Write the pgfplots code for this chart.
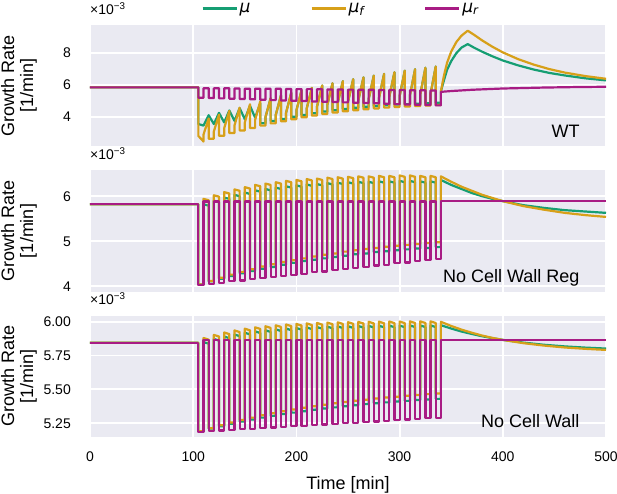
\documentclass[border=0pt]{standalone}
\usepackage{fontspec}
\setmainfont{Liberation Sans}
\newfontfamily\djv{DejaVu Sans}
\usepackage{pgfplots}
\pgfplotsset{compat=1.18}
\definecolor{bgc}{HTML}{EAEAF2}
\definecolor{cmu}{RGB}{22,158,115}
\definecolor{cmuf}{RGB}{215,160,25}
\definecolor{cmur}{RGB}{168,28,132}
\pgfplotsset{panel/.style={
  scale only axis, width=516pt, height=121pt, xmin=0, xmax=500,
  anchor=south west, clip mode=individual, no markers,
  axis background/.style={fill=bgc},
  axis line style={draw=none},
  major tick length=0pt,
  xmajorgrids, ymajorgrids, major grid style={white, line width=1.8pt},
  xtick={0,100,200,300,400,500},
  tick label style={font=\fontsize{14}{16}\selectfont},
  /pgf/number format/assume math mode=true,
  yticklabel style={anchor=east, inner sep=0pt},
  yticklabel shift=19pt,
  ylabel={Growth Rate\\{}[1/min]},
  every axis y label/.style={at={(axis description cs:-0.1725,0.5)}, rotate=90, anchor=north, align=center, inner sep=0pt, font=\fontsize{18}{19}\selectfont},
  every axis plot/.append style={line width=2.2pt, line join=round},
}}
\newcommand{\tenm}{\node[anchor=base west, inner sep=0pt, font=\fontsize{14}{16}\selectfont, yshift=11pt] at (rel axis cs:0,1) {×10\textsuperscript{−3}};}
\begin{document}
\begin{tikzpicture}
\path[use as bounding box] (0pt,0pt) rectangle (617pt,-494pt);
% ---------------- WT ----------------
\begin{axis}[panel, at={(90pt,-146.3pt)}, ymin=2.15, ymax=9.75, ytick={4,6,8}, xticklabels={},
  legend style={at={(axis description cs:0.5,1)}, anchor=center, yshift=16.8pt, xshift=-7pt, draw=none, fill=none,
    legend columns=3, font=\fontsize{17}{19}\selectfont,
    /tikz/every even column/.append style={column sep=58pt}},
  legend image code/.code={\draw[#1] (0pt,0pt) -- (34pt,0pt);}]
\addplot[cmu] coordinates {(0,5.85)(105,5.85)(105,3.55)(110,3.45)(115,4.10)(120,3.55)(125,4.25)(130,3.65)(135,4.40)(140,3.75)(145,4.55)(150,3.85)(155,4.70)(160,3.95)(165,4.85)
(165,3.60)(170,3.60)(170,3.97)(175,5.17)
(175,3.74)(180,3.74)(180,4.12)(185,5.34)
(185,3.87)(190,3.87)(190,4.26)(195,5.51)
(195,4.00)(200,4.00)(200,4.40)(205,5.67)
(205,4.12)(210,4.12)(210,4.53)(215,5.82)
(215,4.23)(220,4.23)(220,4.65)(225,5.97)
(225,4.33)(230,4.33)(230,4.76)(235,6.11)
(235,4.42)(240,4.42)(240,4.86)(245,6.24)
(245,4.50)(250,4.50)(250,4.95)(255,6.36)
(255,4.57)(260,4.57)(260,5.04)(265,6.48)
(265,4.63)(270,4.63)(270,5.11)(275,6.59)
(275,4.68)(280,4.68)(280,5.18)(285,6.70)
(285,4.73)(290,4.73)(290,5.25)(295,6.80)
(295,4.77)(300,4.77)(300,5.30)(305,6.90)
(305,4.80)(310,4.80)(310,5.35)(315,6.99)
(315,4.83)(320,4.83)(320,5.40)(325,7.08)
(325,4.86)(330,4.86)(330,5.45)(335,7.16)
(335,4.89)(340,4.89)(340,5.60)(343,6.30)(346,6.95)(350,7.50)(355,8.00)(360,8.35)(366,8.57)(372,8.35)(380,8.09)(390,7.80)(400,7.54)(415,7.23)(430,6.97)(445,6.76)(460,6.60)(480,6.42)(500,6.29)};
\addlegendentry{{\djv\itshape μ}}
\addplot[cmuf] coordinates {(0,5.85)(105,5.85)(105,2.80)(110,2.45)(110,2.89)(115,3.90)
(115,2.63)(120,2.63)(120,3.08)(125,4.14)
(125,2.81)(130,2.81)(130,3.28)(135,4.37)
(135,2.98)(140,2.98)(140,3.46)(145,4.58)
(145,3.14)(150,3.14)(150,3.64)(155,4.79)
(155,3.30)(160,3.30)(160,3.80)(165,4.98)
(165,3.45)(170,3.45)(170,3.97)(175,5.17)
(175,3.59)(180,3.59)(180,4.12)(185,5.34)
(185,3.72)(190,3.72)(190,4.26)(195,5.51)
(195,3.85)(200,3.85)(200,4.40)(205,5.67)
(205,3.97)(210,3.97)(210,4.53)(215,5.82)
(215,4.08)(220,4.08)(220,4.65)(225,5.97)
(225,4.18)(230,4.18)(230,4.76)(235,6.11)
(235,4.27)(240,4.27)(240,4.86)(245,6.24)
(245,4.35)(250,4.35)(250,4.95)(255,6.36)
(255,4.42)(260,4.42)(260,5.04)(265,6.48)
(265,4.48)(270,4.48)(270,5.11)(275,6.59)
(275,4.53)(280,4.53)(280,5.18)(285,6.70)
(285,4.58)(290,4.58)(290,5.25)(295,6.80)
(295,4.62)(300,4.62)(300,5.30)(305,6.90)
(305,4.65)(310,4.65)(310,5.35)(315,6.99)
(315,4.68)(320,4.68)(320,5.40)(325,7.08)
(325,4.71)(330,4.71)(330,5.45)(335,7.16)
(335,4.74)(340,4.74)(340,5.60)(343,6.60)(346,7.40)(350,8.10)(355,8.70)(360,9.10)(366,9.41)(372,9.16)(380,8.80)(390,8.40)(400,8.05)(415,7.62)(430,7.28)(445,7.00)(460,6.78)(480,6.56)(500,6.39)};
\addlegendentry{{\djv\itshape μ\textsubscript{f}}}
\addplot[cmur] coordinates {(0,5.85)(105,5.85)
(105,5.20)(110,5.20)(110,5.80)(115,5.80)
(115,5.18)(120,5.18)(120,5.79)(125,5.79)
(125,5.16)(130,5.16)(130,5.79)(135,5.79)
(135,5.14)(140,5.14)(140,5.78)(145,5.78)
(145,5.12)(150,5.12)(150,5.77)(155,5.77)
(155,5.10)(160,5.10)(160,5.77)(165,5.77)
(165,5.07)(170,5.07)(170,5.76)(175,5.76)
(175,5.05)(180,5.05)(180,5.76)(185,5.76)
(185,5.03)(190,5.03)(190,5.75)(195,5.75)
(195,5.01)(200,5.01)(200,5.74)(205,5.74)
(205,4.99)(210,4.99)(210,5.74)(215,5.74)
(215,4.97)(220,4.97)(220,5.73)(225,5.73)
(225,4.95)(230,4.95)(230,5.72)(235,5.72)
(235,4.93)(240,4.93)(240,5.72)(245,5.72)
(245,4.91)(250,4.91)(250,5.71)(255,5.71)
(255,4.89)(260,4.89)(260,5.70)(265,5.70)
(265,4.87)(270,4.87)(270,5.70)(275,5.70)
(275,4.85)(280,4.85)(280,5.69)(285,5.69)
(285,4.82)(290,4.82)(290,5.69)(295,5.69)
(295,4.80)(300,4.80)(300,5.68)(305,5.68)
(305,4.78)(310,4.78)(310,5.67)(315,5.67)
(315,4.76)(320,4.76)(320,5.67)(325,5.67)
(325,4.74)(330,4.74)(330,5.66)(335,5.66)
(335,4.72)(340,4.72)(340,5.57)(350,5.62)(360,5.66)(370,5.70)(385,5.74)(400,5.78)(420,5.81)(440,5.84)(470,5.87)(500,5.89)};
\addlegendentry{{\djv\itshape μ\textsubscript{r}}}
\tenm
\node[anchor=base east, inner sep=0pt, font=\fontsize{18}{20}\selectfont] at (rel axis cs:0.949,0.074) {WT};
\end{axis}
% ---------------- No Cell Wall Reg ----------------
\begin{axis}[panel, at={(90pt,-291.5pt)}, ymin=3.885, ymax=6.57, ytick={4,5,6}, xticklabels={}]
\addplot[cmu] coordinates {(0,5.82)(105,5.82)
(105,4.04)(110,4.04)(110,5.82)(115,5.79)
(115,4.11)(120,4.11)(120,5.90)(125,5.87)
(125,4.17)(130,4.17)(130,5.97)(135,5.94)
(135,4.23)(140,4.23)(140,6.03)(145,6.00)
(145,4.29)(150,4.29)(150,6.08)(155,6.05)
(155,4.34)(160,4.34)(160,6.13)(165,6.10)
(165,4.39)(170,4.39)(170,6.16)(175,6.13)
(175,4.43)(180,4.43)(180,6.19)(185,6.16)
(185,4.48)(190,4.48)(190,6.22)(195,6.19)
(195,4.52)(200,4.52)(200,6.24)(205,6.21)
(205,4.56)(210,4.56)(210,6.26)(215,6.23)
(215,4.59)(220,4.59)(220,6.27)(225,6.24)
(225,4.62)(230,4.62)(230,6.29)(235,6.26)
(235,4.65)(240,4.65)(240,6.30)(245,6.27)
(245,4.68)(250,4.68)(250,6.31)(255,6.28)
(255,4.71)(260,4.71)(260,6.32)(265,6.29)
(265,4.73)(270,4.73)(270,6.32)(275,6.29)
(275,4.76)(280,4.76)(280,6.33)(285,6.30)
(285,4.78)(290,4.78)(290,6.33)(295,6.30)
(295,4.80)(300,4.80)(300,6.34)(305,6.31)
(305,4.82)(310,4.82)(310,6.34)(315,6.31)
(315,4.84)(320,4.84)(320,6.33)(325,6.30)
(325,4.85)(330,4.85)(330,6.33)(335,6.30)
(335,4.87)(340,4.87)(340,6.36)(350,6.25)(360,6.16)(370,6.07)(380,6.00)(390,5.94)(400,5.89)(420,5.80)(440,5.74)(460,5.69)(480,5.66)(500,5.63)};
\addplot[cmuf] coordinates {(0,5.82)(105,5.82)
(105,4.04)(110,4.04)(110,5.94)(115,5.91)
(115,4.12)(120,4.12)(120,6.02)(125,5.99)
(125,4.19)(130,4.19)(130,6.09)(135,6.06)
(135,4.26)(140,4.26)(140,6.15)(145,6.12)
(145,4.32)(150,4.32)(150,6.20)(155,6.17)
(155,4.38)(160,4.38)(160,6.25)(165,6.22)
(165,4.44)(170,4.44)(170,6.28)(175,6.25)
(175,4.49)(180,4.49)(180,6.31)(185,6.28)
(185,4.54)(190,4.54)(190,6.34)(195,6.31)
(195,4.58)(200,4.58)(200,6.36)(205,6.33)
(205,4.62)(210,4.62)(210,6.38)(215,6.35)
(215,4.66)(220,4.66)(220,6.39)(225,6.36)
(225,4.70)(230,4.70)(230,6.41)(235,6.38)
(235,4.73)(240,4.73)(240,6.42)(245,6.39)
(245,4.77)(250,4.77)(250,6.43)(255,6.40)
(255,4.80)(260,4.80)(260,6.44)(265,6.41)
(265,4.83)(270,4.83)(270,6.44)(275,6.41)
(275,4.85)(280,4.85)(280,6.45)(285,6.42)
(285,4.88)(290,4.88)(290,6.45)(295,6.42)
(295,4.90)(300,4.90)(300,6.46)(305,6.43)
(305,4.92)(310,4.92)(310,6.46)(315,6.43)
(315,4.94)(320,4.94)(320,6.45)(325,6.42)
(325,4.96)(330,4.96)(330,6.45)(335,6.42)
(335,4.98)(340,4.98)(340,6.44)(350,6.32)(360,6.21)(370,6.12)(380,6.03)(390,5.96)(400,5.89)(420,5.78)(440,5.70)(460,5.63)(480,5.58)(500,5.54)};
\addplot[cmur] coordinates {(0,5.82)(105,5.82)
(105,4.03)(110,4.03)(110,5.88)(115,5.88)
(115,4.06)(120,4.06)(120,5.88)(125,5.88)
(125,4.08)(130,4.08)(130,5.88)(135,5.88)
(135,4.11)(140,4.11)(140,5.88)(145,5.88)
(145,4.13)(150,4.13)(150,5.88)(155,5.88)
(155,4.16)(160,4.16)(160,5.88)(165,5.88)
(165,4.18)(170,4.18)(170,5.88)(175,5.88)
(175,4.21)(180,4.21)(180,5.88)(185,5.88)
(185,4.23)(190,4.23)(190,5.88)(195,5.88)
(195,4.26)(200,4.26)(200,5.88)(205,5.88)
(205,4.28)(210,4.28)(210,5.88)(215,5.88)
(215,4.31)(220,4.31)(220,5.88)(225,5.88)
(225,4.33)(230,4.33)(230,5.88)(235,5.88)
(235,4.36)(240,4.36)(240,5.88)(245,5.88)
(245,4.38)(250,4.38)(250,5.88)(255,5.88)
(255,4.41)(260,4.41)(260,5.88)(265,5.88)
(265,4.43)(270,4.43)(270,5.88)(275,5.88)
(275,4.46)(280,4.46)(280,5.88)(285,5.88)
(285,4.48)(290,4.48)(290,5.88)(295,5.88)
(295,4.51)(300,4.51)(300,5.88)(305,5.88)
(305,4.53)(310,4.53)(310,5.88)(315,5.88)
(315,4.56)(320,4.56)(320,5.88)(325,5.88)
(325,4.58)(330,4.58)(330,5.88)(335,5.88)
(335,4.61)(340,4.61)(340,5.89)(500,5.89)};
\tenm
\node[anchor=base east, inner sep=0pt, font=\fontsize{18}{20}\selectfont] at (rel axis cs:0.949,0.074) {No Cell Wall Reg};
\end{axis}
% ---------------- No Cell Wall ----------------
\begin{axis}[panel, at={(90pt,-436.7pt)}, ymin=5.15, ymax=6.045, ytick={5.25,5.5,5.75,6.0},
  yticklabel style={/pgf/number format/fixed, /pgf/number format/fixed zerofill, /pgf/number format/precision=2},
  xticklabel style={anchor=base, yshift=-25pt},
  xlabel={Time [min]},
  every axis x label/.style={at={(axis description cs:0.5,-0.438)}, anchor=base, font=\fontsize{18}{20}\selectfont}]
\addplot[cmu] coordinates {(0,5.845)(105,5.845)
(105,5.190)(110,5.190)(110,5.850)(115,5.838)
(115,5.210)(120,5.210)(120,5.873)(125,5.861)
(125,5.228)(130,5.228)(130,5.891)(135,5.879)
(135,5.245)(140,5.245)(140,5.906)(145,5.894)
(145,5.262)(150,5.262)(150,5.919)(155,5.907)
(155,5.277)(160,5.277)(160,5.929)(165,5.917)
(165,5.291)(170,5.291)(170,5.937)(175,5.925)
(175,5.304)(180,5.304)(180,5.944)(185,5.932)
(185,5.317)(190,5.317)(190,5.950)(195,5.938)
(195,5.328)(200,5.328)(200,5.954)(205,5.942)
(205,5.339)(210,5.339)(210,5.958)(215,5.946)
(215,5.349)(220,5.349)(220,5.961)(225,5.949)
(225,5.359)(230,5.359)(230,5.964)(235,5.952)
(235,5.367)(240,5.367)(240,5.966)(245,5.954)
(245,5.376)(250,5.376)(250,5.967)(255,5.955)
(255,5.383)(260,5.383)(260,5.969)(265,5.957)
(265,5.391)(270,5.391)(270,5.970)(275,5.958)
(275,5.398)(280,5.398)(280,5.971)(285,5.959)
(285,5.404)(290,5.404)(290,5.972)(295,5.960)
(295,5.410)(300,5.410)(300,5.972)(305,5.960)
(305,5.415)(310,5.415)(310,5.973)(315,5.961)
(315,5.421)(320,5.421)(320,5.973)(325,5.961)
(325,5.425)(330,5.425)(330,5.973)(335,5.961)
(335,5.430)(340,5.430)(340,5.975)(350,5.950)(360,5.928)(370,5.910)(380,5.893)(390,5.879)(400,5.866)(420,5.846)(440,5.830)(460,5.818)(480,5.809)(500,5.802)};
\addplot[cmuf] coordinates {(0,5.845)(105,5.845)
(105,5.190)(110,5.190)(110,5.880)(115,5.868)
(115,5.213)(120,5.213)(120,5.903)(125,5.891)
(125,5.235)(130,5.235)(130,5.921)(135,5.909)
(135,5.255)(140,5.255)(140,5.936)(145,5.924)
(145,5.274)(150,5.274)(150,5.949)(155,5.937)
(155,5.291)(160,5.291)(160,5.959)(165,5.947)
(165,5.308)(170,5.308)(170,5.967)(175,5.955)
(175,5.323)(180,5.323)(180,5.974)(185,5.962)
(185,5.338)(190,5.338)(190,5.980)(195,5.968)
(195,5.351)(200,5.351)(200,5.984)(205,5.972)
(205,5.364)(210,5.364)(210,5.988)(215,5.976)
(215,5.376)(220,5.376)(220,5.991)(225,5.979)
(225,5.387)(230,5.387)(230,5.994)(235,5.982)
(235,5.397)(240,5.397)(240,5.996)(245,5.984)
(245,5.407)(250,5.407)(250,5.997)(255,5.985)
(255,5.416)(260,5.416)(260,5.999)(265,5.987)
(265,5.424)(270,5.424)(270,6.000)(275,5.988)
(275,5.432)(280,5.432)(280,6.001)(285,5.989)
(285,5.440)(290,5.440)(290,6.002)(295,5.990)
(295,5.446)(300,5.446)(300,6.002)(305,5.990)
(305,5.453)(310,5.453)(310,6.003)(315,5.991)
(315,5.459)(320,5.459)(320,6.003)(325,5.991)
(325,5.465)(330,5.465)(330,6.003)(335,5.991)
(335,5.470)(340,5.470)(340,6.000)(350,5.969)(360,5.942)(370,5.919)(380,5.898)(390,5.881)(400,5.866)(420,5.842)(440,5.824)(460,5.810)(480,5.800)(500,5.792)};
\addplot[cmur] coordinates {(0,5.845)(105,5.845)
(105,5.187)(110,5.187)(110,5.866)(115,5.866)
(115,5.191)(120,5.191)(120,5.866)(125,5.866)
(125,5.196)(130,5.196)(130,5.866)(135,5.866)
(135,5.200)(140,5.200)(140,5.866)(145,5.866)
(145,5.205)(150,5.205)(150,5.866)(155,5.866)
(155,5.209)(160,5.209)(160,5.866)(165,5.866)
(165,5.214)(170,5.214)(170,5.866)(175,5.866)
(175,5.218)(180,5.218)(180,5.866)(185,5.866)
(185,5.223)(190,5.223)(190,5.866)(195,5.866)
(195,5.227)(200,5.227)(200,5.866)(205,5.866)
(205,5.232)(210,5.232)(210,5.866)(215,5.866)
(215,5.236)(220,5.236)(220,5.866)(225,5.866)
(225,5.241)(230,5.241)(230,5.866)(235,5.866)
(235,5.245)(240,5.245)(240,5.866)(245,5.866)
(245,5.250)(250,5.250)(250,5.866)(255,5.866)
(255,5.254)(260,5.254)(260,5.866)(265,5.866)
(265,5.259)(270,5.259)(270,5.866)(275,5.866)
(275,5.263)(280,5.263)(280,5.866)(285,5.866)
(285,5.268)(290,5.268)(290,5.866)(295,5.866)
(295,5.272)(300,5.272)(300,5.866)(305,5.866)
(305,5.277)(310,5.277)(310,5.866)(315,5.866)
(315,5.281)(320,5.281)(320,5.866)(325,5.866)
(325,5.286)(330,5.286)(330,5.866)(335,5.866)
(335,5.290)(340,5.290)(340,5.868)(500,5.868)};
\tenm
\node[anchor=base east, inner sep=0pt, font=\fontsize{18}{20}\selectfont] at (rel axis cs:0.949,0.074) {No Cell Wall};
\end{axis}
\end{tikzpicture}
\end{document}
